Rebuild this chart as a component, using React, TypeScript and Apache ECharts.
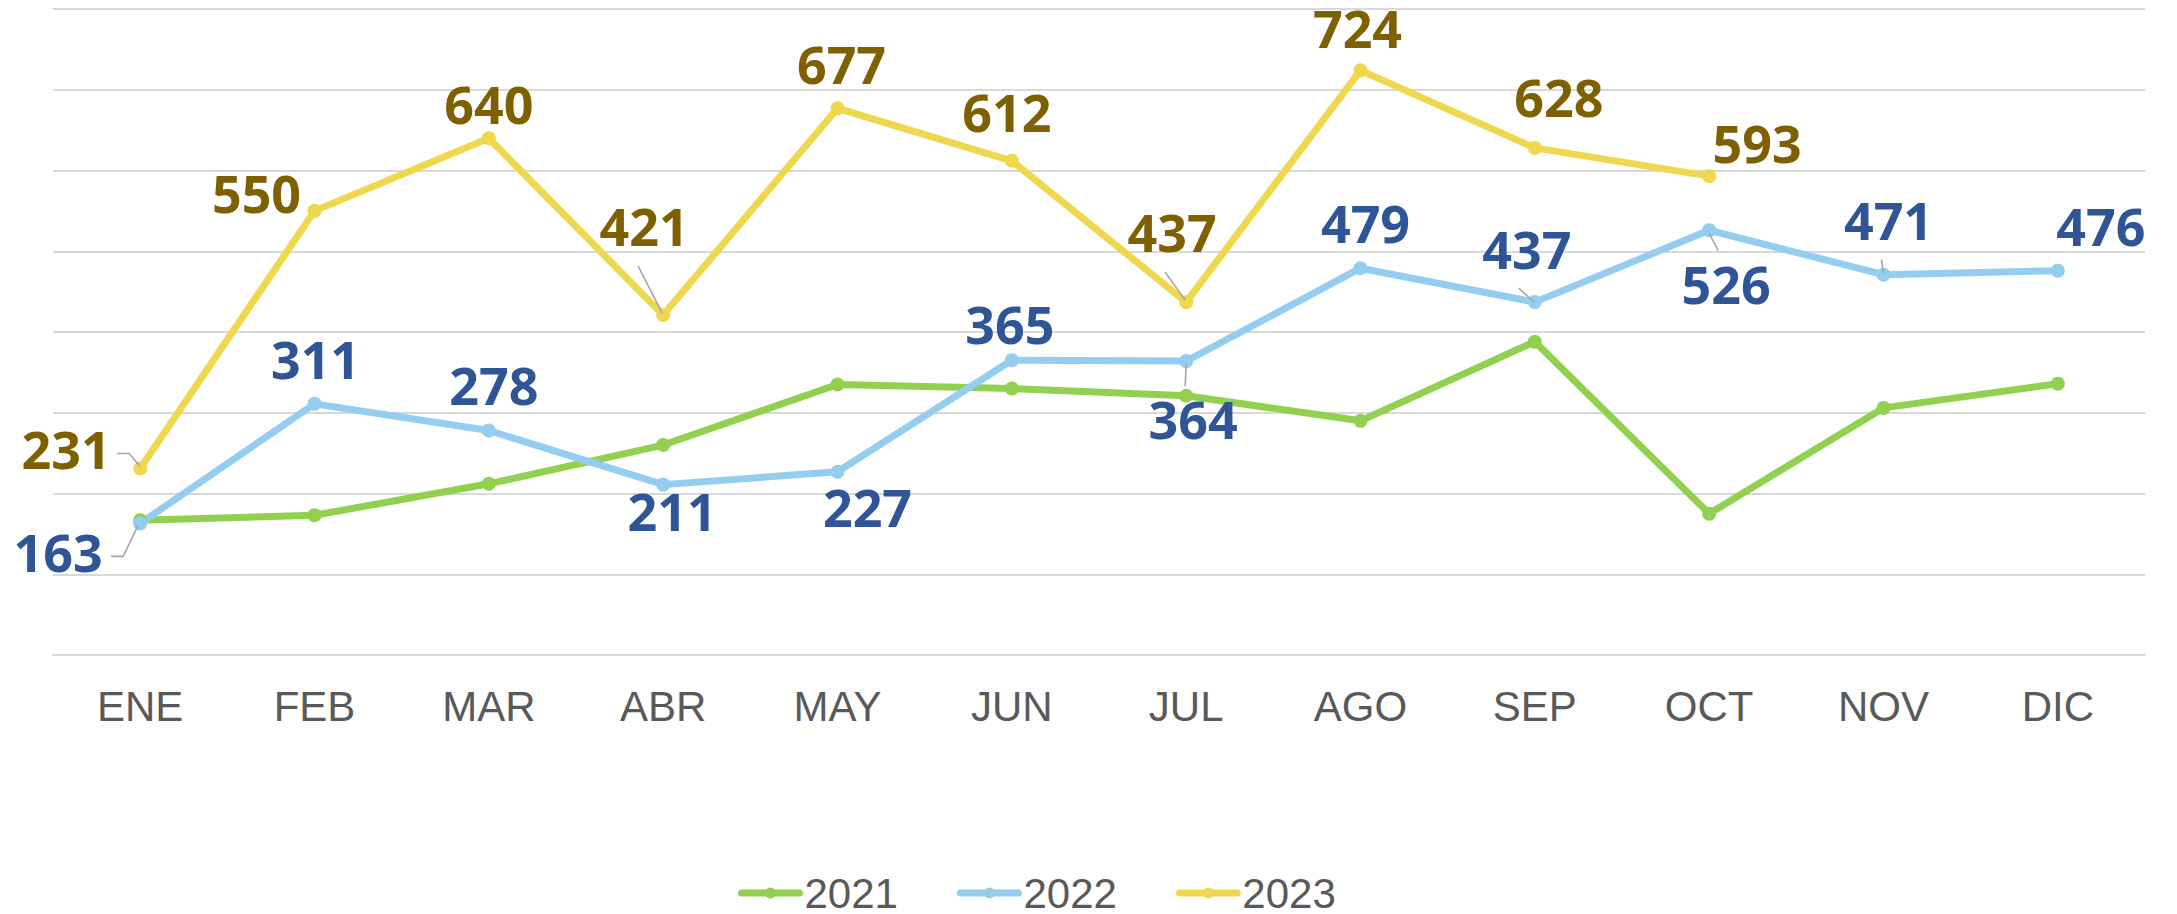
import React, { useEffect, useRef } from "react";
import * as echarts from "echarts";

const months = ["ENE", "FEB", "MAR", "ABR", "MAY", "JUN", "JUL", "AGO", "SEP", "OCT", "NOV", "DIC"];
const values2021 = [167, 173, 212, 260, 335, 330, 321, 290, 388, 175, 306, 336];
const values2022 = [163, 311, 278, 211, 227, 365, 364, 479, 437, 526, 471, 476];
const values2023: (number | null)[] = [231, 550, 640, 421, 677, 612, 437, 724, 628, 593, null, null];
const seriesNames = ["2021", "2022", "2023"];

// label placement: offset of label centre from its point (px)
const offsets2022: [number, number][] = [
  [-82, 32], [1, -41], [5, -42], [9, 30], [30, 39], [-2, -33],
  [7, 61], [5, -42], [-8, -50], [17, 57], [5, -51], [43, -41],
];
const offsets2023: [number, number][] = [
  [-74, -16], [-58, -14], [0, -31], [-19, -86], [4, -41], [-5, -45],
  [-14, -67], [-3, -39], [24, -47], [48, -30], [0, 0], [0, 0],
];
// leader lines: month index and polyline relative to the point (px)
const leaders2022: { i: number; pts: [number, number][] }[] = [
  { i: 0, pts: [[-2, 2], [-17, 33], [-29, 33]] },
  { i: 6, pts: [[0, 2], [-1, 25]] },
  { i: 8, pts: [[-16, -14], [-1, 0]] },
  { i: 9, pts: [[0, 3], [9, 20]] },
  { i: 10, pts: [[-2, -15], [0, -1]] },
];
const leaders2023: { i: number; pts: [number, number][] }[] = [
  { i: 0, pts: [[0, -2], [-11, -15], [-23, -15]] },
  { i: 3, pts: [[-25, -49], [-1, -2]] },
  { i: 6, pts: [[-21, -30], [-1, -2]] },
];

const COLORS = ["#92D050", "#94CDF0", "#EFD74E"];
const LABEL_COLORS = ["#000", "#2F5597", "#7F6000"];
const LEADER_COLOR = "#A6A6A6";

function buildItems(vals: (number | null)[], offs: [number, number][]) {
  return vals.map((v, i) =>
    v == null ? null : { value: v, label: { offset: [offs[i][0], offs[i][1] - 4] } }
  );
}

function leaderSeries(vals: (number | null)[], leaders: { i: number; pts: [number, number][] }[]) {
  return {
    type: "custom",
    name: "leaders",
    z: 5,
    silent: true,
    data: leaders.map((l) => [l.i, vals[l.i]]),
    renderItem: (params: any, api: any) => {
      const p = api.coord([api.value(0), api.value(1)]);
      const l = leaders[params.dataIndex];
      return {
        type: "polyline",
        shape: { points: l.pts.map(([dx, dy]) => [p[0] + dx, p[1] + dy]) },
        style: { stroke: LEADER_COLOR, lineWidth: 1.6, fill: null },
      };
    },
  };
}

export default function App() {
  const ref = useRef<HTMLDivElement>(null);
  useEffect(() => {
    if (!ref.current) return;
    const chart = echarts.init(ref.current, undefined, { renderer: "svg" });
    const labelBase = (color: string) => ({
      show: true,
      position: "inside",
      fontSize: 52,
      lineHeight: 44,
      fontWeight: "bold",
      fontFamily: "Open Sans",
      color,
      textBorderWidth: 0,
    });
    const common = (idx: number) => ({
      type: "line",
      name: seriesNames[idx],
      symbol: "circle",
      symbolSize: 14,
      showSymbol: true,
      showAllSymbol: true,
      lineStyle: { width: 7, color: COLORS[idx], cap: "round", join: "round" },
      itemStyle: { color: COLORS[idx] },
      emphasis: { disabled: true },
    });
    chart.setOption({
      animation: false,
      grid: { left: 53, right: 32, top: 9, bottom: 259, containLabel: false },
      xAxis: {
        type: "category",
        data: months,
        boundaryGap: true,
        axisLine: { show: true, lineStyle: { color: "#D9D9D9", width: 2 } },
        axisTick: { show: false },
        axisLabel: {
          margin: 30,
          fontSize: 42,
          fontFamily: "Liberation Sans",
          color: "#595959",
        },
      },
      yAxis: {
        type: "value",
        min: 0,
        max: 800,
        interval: 100,
        axisLabel: { show: false },
        axisLine: { show: false },
        axisTick: { show: false },
        splitLine: { show: true, lineStyle: { color: "#D9D9D9", width: 2 } },
      },
      legend: {
        left: 733,
        top: 867,
        itemWidth: 58,
        itemHeight: 14,
        itemGap: 59,
        selectedMode: false,
        lineStyle: { width: 7, cap: "round" },
        textStyle: {
          fontSize: 42,
          fontFamily: "Liberation Sans",
          color: "#595959",
        },
        data: seriesNames,
      },
      series: [
        { ...common(0), data: values2021, label: { show: false } },
        { ...common(1), data: buildItems(values2022, offsets2022), label: labelBase(LABEL_COLORS[1]) },
        { ...common(2), data: buildItems(values2023, offsets2023), label: labelBase(LABEL_COLORS[2]) },
        leaderSeries(values2022, leaders2022),
        leaderSeries(values2023, leaders2023),
      ],
    });
    return () => chart.dispose();
  }, []);
  return (
    <div
      ref={ref}
      style={{ position: "absolute", left: 0, top: 0, width: 2177, height: 914 }}
    />
  );
}
